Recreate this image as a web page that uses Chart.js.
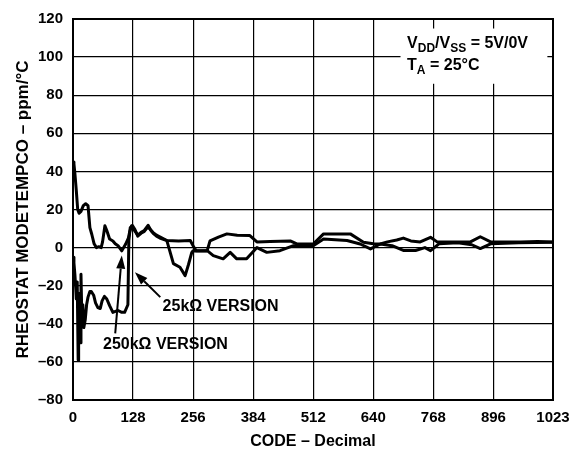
<!DOCTYPE html>
<html lang="en">
  <head>
    <meta charset="UTF-8" />
    <title>Rheostat mode tempco</title>
    <script src="https://cdn.jsdelivr.net/npm/chart.js@4.4.1/dist/chart.umd.min.js"></script>
    <style>
      body { margin: 0; background: #fff; }
    </style>
  </head>
  <body>
    <canvas id="chart" width="585" height="451"></canvas>

    <script>
      // values (code, ppm/°C)
      const codes250k = [0, 2, 4, 7, 10, 13, 17, 22, 27, 32, 36, 40, 45, 50, 55, 60, 63, 68, 72, 78, 85, 90, 96, 104, 112, 118, 121, 125,
        131, 138, 145, 152, 160, 165, 171, 178, 185, 200, 225, 250, 258, 263, 275, 286, 292, 310, 328, 350, 377, 392, 420, 463, 477, 512,
        534, 560, 591, 619, 640, 655, 670, 690, 704, 720, 740, 762, 776, 811, 847, 868, 890, 954, 990, 1023];
      const tempco250k = [45, 44, 39, 30, 20, 18, 19, 22, 23, 22, 10.5, 7, 2, 0, 0.5, 0, 3, 11.5, 9, 4.5, 3.5, 2, 1, -1.7, 1.7, 5, 8.5, 11.5,
        9, 6.5, 8, 9, 11.7, 9.5, 7.8, 6.5, 5.7, 3.7, 3.5, 3.7, 0, -1.7, -1.6, -1.6, 3.5, 5.5, 7.2, 6.5, 6.3, 3, 3.2, 3.5, 1.9, 1.9,
        7.2, 7.2, 7.2, 2.8, 2, 1.9, 3, 4, 5, 3.5, 3, 5.4, 3, 3, 3, 5.7, 3, 3, 3.2, 3];

      const codes25k = [0, 2, 4, 6, 7, 9, 11, 12, 14, 16, 17, 19, 21, 23, 26, 29, 32, 36, 39, 44, 48, 53, 58, 62, 67, 72, 78, 85, 96, 104,
        110, 117, 119, 122, 127, 132, 138, 145, 152, 160, 166, 171, 178, 185, 200, 214, 228, 239, 246, 253, 256, 270, 286, 299, 320, 335,
        349, 370, 392, 413, 441, 470, 512, 534, 584, 612, 634, 655, 680, 704, 730, 750, 762, 780, 820, 850, 868, 890, 950, 1023];
      const tempco25k = [-5, -8, -14, -22, -27, -18, -59, -40, -24, -50, -14, -38, -30, -42, -38, -30, -26, -23, -23, -25, -29, -31.5, -32,
        -28, -25.6, -27, -30.5, -34, -33, -34, -34, -30, 3.7, 10.5, 11.5, 9.5, 6, 7.5, 8.5, 11, 9, 7.5, 6, 5, 3.7, -8.4, -10.3, -14.7, -9,
        -2.6, -1.6, -1.8, -1.6, -4.2, -5.9, -2.5, -5.9, -5.9, 0, -2.5, -1.6, 1, 1, 4.5, 3.7, 1.9, -0.7, 1.9, 1, -1.5, -1.5, 0, -1.6, 2,
        2.5, 1.5, -0.5, 2, 2.5, 2.8];

      const xTickValues = [0, 128, 256, 384, 512, 640, 768, 896, 1023];

      const FONT = "'Liberation Sans', Arial, Helvetica, sans-serif";

      function pairs(xs, ys) {
        return xs.map((x, i) => ({ x: x, y: ys[i] }));
      }

      // arrows and labels, in data units
      const notes = [
        { text: "25k\u03A9 VERSION", x: 191, y: -31, from: [186, -26], to: [132, -12.9] },
        { text: "250k\u03A9 VERSION", x: 64, y: -51, from: [90, -45], to: [104, -4.2] },
      ];

      const extras = {
        id: "extras",
        beforeDatasetsDraw(chart) {
          const { ctx, chartArea: a } = chart;
          ctx.save();
          ctx.strokeStyle = "#000";
          ctx.lineWidth = 2;
          ctx.strokeRect(a.left, a.top, a.right - a.left, a.bottom - a.top);
          ctx.restore();
        },
        afterDatasetsDraw(chart) {
          const { ctx } = chart;
          const xs = chart.scales.x;
          const ys = chart.scales.y;
          ctx.save();

          // condition box
          const bx = xs.getPixelForValue(698);
          const by = ys.getPixelForValue(115);
          ctx.fillStyle = "#fff";
          ctx.fillRect(bx, by, xs.getPixelForValue(1011) - bx, ys.getPixelForValue(86) - by);

          ctx.fillStyle = "#000";
          ctx.textBaseline = "middle";
          ctx.textAlign = "left";
          let px = xs.getPixelForValue(712);
          let py = ys.getPixelForValue(107.3);
          const parts1 = [["V", 0], ["DD", 1], ["/V", 0], ["SS", 1], [" = 5V/0V", 0]];
          for (const [t, sub] of parts1) {
            ctx.font = sub ? "bold 12px " + FONT : "bold 16px " + FONT;
            ctx.fillText(t, px, py + (sub ? 5 : 0));
            px += ctx.measureText(t).width;
          }
          px = xs.getPixelForValue(712);
          py = ys.getPixelForValue(95.5);
          const parts2 = [["T", 0], ["A", 1], [" = 25\u00B0C", 0]];
          for (const [t, sub] of parts2) {
            ctx.font = sub ? "bold 12px " + FONT : "bold 16px " + FONT;
            ctx.fillText(t, px, py + (sub ? 5 : 0));
            px += ctx.measureText(t).width;
          }

          // version labels with arrows
          ctx.font = "bold 16px " + FONT;
          ctx.strokeStyle = "#000";
          ctx.lineWidth = 2;
          for (const n of notes) {
            ctx.fillText(n.text, xs.getPixelForValue(n.x), ys.getPixelForValue(n.y));
            const x0 = xs.getPixelForValue(n.from[0]);
            const y0 = ys.getPixelForValue(n.from[1]);
            const x1 = xs.getPixelForValue(n.to[0]);
            const y1 = ys.getPixelForValue(n.to[1]);
            const ang = Math.atan2(y1 - y0, x1 - x0);
            const hl = 13, hw = 4.5;
            const bxp = x1 - hl * Math.cos(ang);
            const byp = y1 - hl * Math.sin(ang);
            ctx.beginPath();
            ctx.moveTo(x0, y0);
            ctx.lineTo(bxp, byp);
            ctx.stroke();
            ctx.beginPath();
            ctx.moveTo(x1, y1);
            ctx.lineTo(bxp + hw * Math.sin(ang), byp - hw * Math.cos(ang));
            ctx.lineTo(bxp - hw * Math.sin(ang), byp + hw * Math.cos(ang));
            ctx.closePath();
            ctx.fill();
          }
          ctx.restore();
        },
      };

      const ctx = document.getElementById("chart").getContext("2d");
      const myChart = new Chart(ctx, {
        type: "line",
        data: {
          datasets: [
            {
              label: "250k\u03A9 VERSION",
              data: pairs(codes250k, tempco250k),
              borderColor: "#000",
              borderWidth: 3,
              pointRadius: 0,
              tension: 0,
              fill: false,
            },
            {
              label: "25k\u03A9 VERSION",
              data: pairs(codes25k, tempco25k),
              borderColor: "#000",
              borderWidth: 3,
              pointRadius: 0,
              tension: 0,
              fill: false,
            },
          ],
        },
        options: {
          responsive: false,
          animation: false,
          borderJoinStyle: "round",
          layout: { padding: { top: 18, right: 32, left: 0, bottom: 0 } },
          plugins: {
            legend: { display: false },
            tooltip: { enabled: false },
          },
          scales: {
            x: {
              type: "linear",
              min: 0,
              max: 1023,
              afterBuildTicks: (scale) => {
                scale.ticks = xTickValues.map((v) => ({ value: v }));
              },
              afterFit: (scale) => {
                scale.height = 51;
              },
              grid: { color: "#000", lineWidth: 1.2, drawTicks: false },
              border: { display: false },
              ticks: {
                autoSkip: false,
                maxRotation: 0,
                padding: 9,
                color: "#000",
                font: { family: FONT, size: 15, weight: "bold" },
                callback: (v) => String(v),
              },
              title: {
                display: true,
                text: "CODE \u2013 Decimal",
                color: "#000",
                padding: { top: 0, bottom: 0 },
                font: { family: FONT, size: 16, weight: "bold" },
              },
            },
            y: {
              min: -80,
              max: 120,
              afterFit: (scale) => {
                scale.width = 73;
              },
              grid: { color: "#000", lineWidth: 1.2, drawTicks: false },
              border: { display: false },
              ticks: {
                stepSize: 20,
                padding: 10,
                color: "#000",
                font: { family: FONT, size: 15, weight: "bold" },
                callback: (v) => (v < 0 ? "\u2013" + Math.abs(v) : String(v)),
              },
              title: {
                display: true,
                text: "RHEOSTAT MODETEMPCO \u2013 ppm/\u00B0C",
                color: "#000",
                padding: { top: 13, bottom: 0 },
                font: { family: FONT, size: 17, weight: "bold" },
              },
            },
          },
        },
        plugins: [extras],
      });
    </script>
  </body>
</html>
